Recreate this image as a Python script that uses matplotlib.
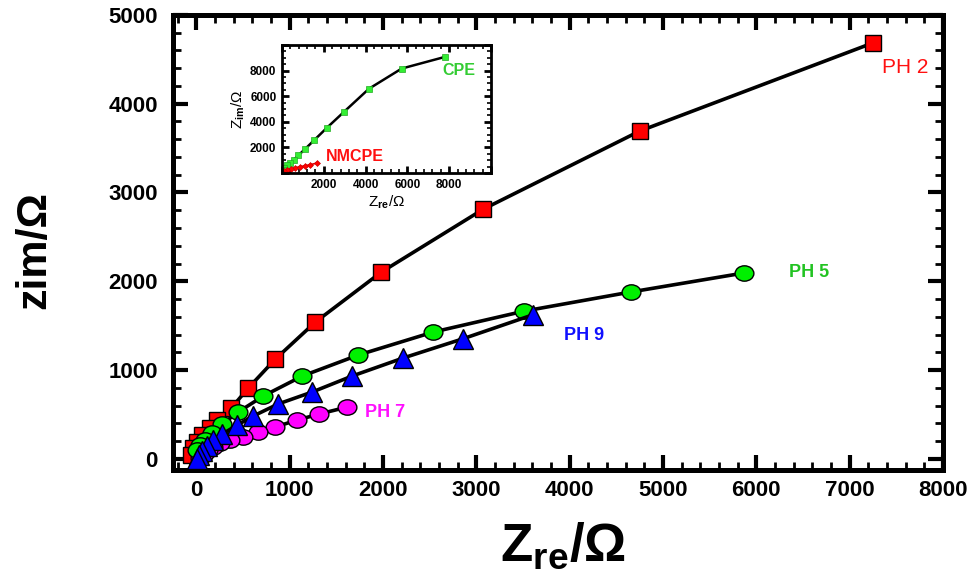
import matplotlib
matplotlib.use("Agg")
import matplotlib.pyplot as plt
from matplotlib.path import Path
from matplotlib.transforms import Affine2D
from matplotlib.ticker import MultipleLocator

plt.rcParams['font.family'] = ['Liberation Sans', 'DejaVu Sans']
plt.rcParams['font.weight'] = 'bold'
plt.rcParams['mathtext.fontset'] = 'custom'
plt.rcParams['mathtext.rm'] = 'Liberation Sans:bold'
plt.rcParams['mathtext.bf'] = 'Liberation Sans:bold'

# main Nyquist data (Zre, Zim) in ohm
ph2_re = [7245, 4749, 3076, 1983, 1276, 847, 557, 375, 225, 150, 64, 11, -32, -54]
ph2_im = [4683, 3691, 2813, 2104, 1541, 1124, 798, 573, 438, 348, 269, 190, 123, 44]

ph5_re = [5864, 4652, 3516, 2541, 1737, 1136, 718, 450, 279, 172, 96, 43, 11]
ph5_im = [2093, 1879, 1665, 1429, 1170, 933, 708, 528, 393, 292, 213, 157, 100]

ph9_re = [3602, 2852, 2219, 1672, 1244, 879, 611, 440, 279, 182, 118, 64, 32, 11]
ph9_im = [1621, 1351, 1137, 934, 754, 619, 483, 382, 280, 213, 145, 89, 44, 0]

ph7_re = [1619, 1319, 1083, 847, 665, 504, 364, 257, 182, 129, 86, 43]
ph7_im = [584, 506, 438, 360, 303, 247, 213, 179, 134, 100, 55, 10]

# inset data
cpe_re = [7800, 5727, 4163, 2981, 2139, 1545, 1100, 780, 574, 383, 225, 96, 33]
cpe_im = [9072, 8159, 6585, 4800, 3518, 2573, 1866, 1377, 1039, 771, 590, 409, 252]
nm_re = [1660, 1340, 1100, 861, 622, 416, 225, 96, 0]
nm_im = [771, 645, 566, 488, 409, 330, 252, 173, 94]

ellipse = Path.unit_circle().transformed(Affine2D().scale(1, 0.82))

fig = plt.figure(figsize=(9.69, 5.71), dpi=100)
ax = fig.add_axes([0.1785, 0.1769, 0.7947, 0.797])

line_kw = dict(color='black', lw=2.6, mec='black', mew=1.0)
ax.plot(ph2_re, ph2_im, marker='s', ms=12, mfc='#ff0000', zorder=2, **line_kw)
ax.plot(ph7_re, ph7_im, marker=ellipse, ms=13.5, mfc='#ff00ff', zorder=3, **line_kw)
ax.plot(ph5_re, ph5_im, marker=ellipse, ms=13.5, mfc='#00f000', zorder=4, **line_kw)
ax.plot(ph9_re, ph9_im, marker='^', ms=14, mfc='#0000ff', zorder=5, **line_kw)

ax.text(7350, 4410, 'PH 2', color='#ff1010', fontsize=15, fontweight='normal', va='center')
ax.text(6346, 2104, 'PH 5', color='#22c322', fontsize=13, va='center')
ax.text(3934, 1395, 'PH 9', color='#1010ff', fontsize=13, va='center')
ax.text(1812, 528, 'PH 7', color='#ff10ff', fontsize=13, va='center')

ax.set_xlim(-250, 8000)
ax.set_ylim(-125, 5000)
ax.xaxis.set_major_locator(MultipleLocator(1000))
ax.xaxis.set_minor_locator(MultipleLocator(200))
ax.yaxis.set_major_locator(MultipleLocator(1000))
ax.yaxis.set_minor_locator(MultipleLocator(200))
ax.tick_params(which='both', direction='in', top=True, right=True)
ax.tick_params(which='major', length=11, width=3, labelsize=16)
ax.tick_params(which='minor', length=6, width=2)
ax.tick_params(axis='x', pad=7)
ax.tick_params(axis='y', pad=11)
for s in ax.spines.values():
    s.set_linewidth(3.6)

fig.text(563 / 969, 1 - 547 / 571, 'Z$_{\\mathbf{re}}$/Ω', fontsize=38,
         ha='center', va='center')
fig.text(34 / 969, 1 - 250 / 571, 'zim/Ω', fontsize=31, rotation=90,
         ha='center', va='center')

# inset
ins = fig.add_axes([282 / 969, 1 - 173 / 571, 209 / 969, 128 / 571])
ins.plot(cpe_re, cpe_im, color='black', lw=1.8, marker='s', ms=5,
         mfc='#33ee33', mec='#22aa22', mew=0.5)
ins.plot(nm_re, nm_im, color='#dd0000', lw=1.2, marker='D', ms=3,
         mfc='#ff0000', mec='#cc0000', mew=0.5)
ins.text(7655, 7990, 'CPE', color='#33cc33', fontsize=11.5, va='center')
ins.text(2105, 1300, 'NMCPE', color='#ff1010', fontsize=11.5, va='center')
ins.set_xlim(0, 10000)
ins.set_ylim(0, 10000)
ins.set_xticks([0, 2000, 4000, 6000, 8000, 10000], ['', '2000', '4000', '6000', '8000', ''])
ins.set_yticks([0, 2000, 4000, 6000, 8000, 10000], ['', '2000', '4000', '6000', '8000', ''])
ins.xaxis.set_minor_locator(MultipleLocator(400))
ins.yaxis.set_minor_locator(MultipleLocator(500))
ins.tick_params(which='both', direction='in', top=True, right=True)
ins.tick_params(which='major', length=5, width=2, labelsize=8.5, pad=4)
ins.tick_params(which='minor', length=3, width=1.2)
for s in ins.spines.values():
    s.set_linewidth(2)
ins.set_xlabel('Z$_{\\mathbf{re}}$/Ω', fontsize=11, labelpad=2)
ins.set_ylabel('Z$_{\\mathbf{im}}$/Ω', fontsize=11, labelpad=2)

fig.savefig('out.png', dpi=100)
